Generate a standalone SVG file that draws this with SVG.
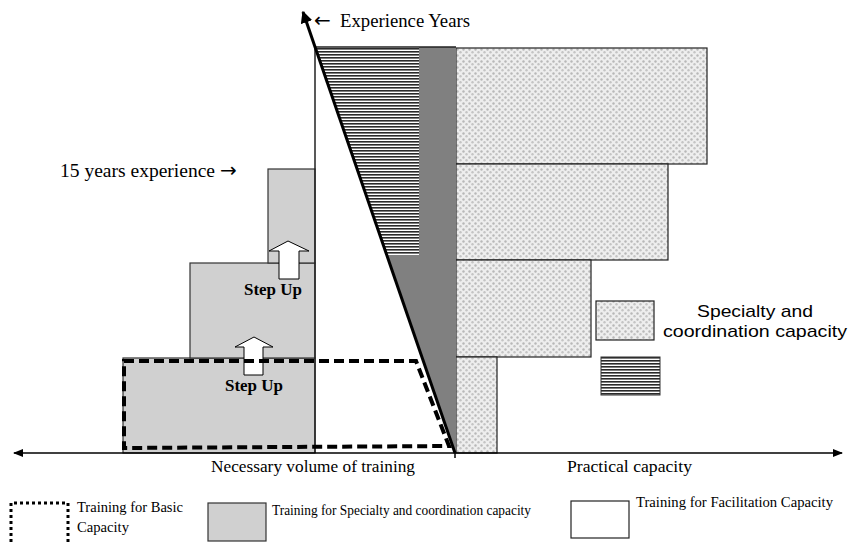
<svg xmlns="http://www.w3.org/2000/svg" width="850" height="542" viewBox="0 0 850 542">
<defs>
<pattern id="stip" width="6" height="6" patternUnits="userSpaceOnUse">
<rect width="6" height="6" fill="#eeeeee"/>
<circle cx="1.5" cy="1.5" r="1.2" fill="#b8b8b8"/>
<circle cx="4.5" cy="4.2" r="1.2" fill="#c4c4c4"/>
</pattern>
<pattern id="hatch" width="6" height="3" patternUnits="userSpaceOnUse">
<rect width="6" height="3" fill="#ffffff"/>
<rect y="0" width="6" height="1.6" fill="#2a2a2a"/>
</pattern>
<marker id="ah" viewBox="0 0 10 10" refX="9" refY="5" markerWidth="4" markerHeight="4" orient="auto-start-reverse">
<path d="M0,0 L10,5 L0,10 z" fill="#000"/>
</marker>
<marker id="ah2" viewBox="0 0 10 10" refX="9" refY="5" markerWidth="7" markerHeight="7" orient="auto-start-reverse">
<path d="M0,1 L10,5 L0,9 z" fill="#000"/>
</marker>
</defs>
<style>
.serif{font-family:"Liberation Serif","DejaVu Serif",serif;fill:#000}
.sans{font-family:"Liberation Sans",Arial,sans-serif;fill:#000}
.arr{font-family:"DejaVu Sans",sans-serif}
.grey{fill:#d0d0d0;stroke:#333;stroke-width:1.2}
.stip{fill:url(#stip);stroke:#222;stroke-width:1.2}
.arrowblk{fill:#fff;stroke:#000;stroke-width:1}
</style>
<rect width="850" height="542" fill="#fff"/>

<g id="capacity-blocks">
<rect class="stip" x="456" y="48" width="251" height="116"/>
<rect class="stip" x="456" y="164" width="212" height="96"/>
<rect class="stip" x="456" y="260" width="135" height="97"/>
<rect class="stip" x="456" y="357" width="41" height="96"/>
</g>

<g id="experience-triangle">
<polygon points="315,47 456,47 456,453 455,453" fill="#808080"/>
<polygon points="315,47 419,47 419,255 387,255" fill="url(#hatch)"/>
<line x1="315" y1="47" x2="456" y2="47" stroke="#222" stroke-width="1.5"/>
</g>

<g id="specialty-training">
<rect class="grey" x="123" y="358" width="192" height="95"/>
<rect class="grey" x="190" y="263" width="125" height="95"/>
<rect class="grey" x="268" y="169" width="47" height="94"/>
</g>

<g id="facilitation">
<line x1="315" y1="47" x2="315" y2="453" stroke="#222" stroke-width="1.5"/>
</g>

<g id="step-up-1">
<polygon class="arrowblk" points="254,337 273,347 263,347 263,375 244,375 244,347 235,347"/>
<text class="serif" x="225" y="391" font-size="17" font-weight="bold" textLength="58" lengthAdjust="spacingAndGlyphs">Step Up</text>
</g>
<g id="step-up-2">
<polygon class="arrowblk" points="288,241 309,251 299,251 299,279 279,279 279,251 269,251"/>
<text class="serif" x="244" y="295" font-size="17" font-weight="bold" textLength="58" lengthAdjust="spacingAndGlyphs">Step Up</text>
</g>

<g id="basic-capacity">
<polygon points="124,361 416,361 449,446 124,448" fill="none" stroke="#000" stroke-width="4" stroke-dasharray="10,5"/>
</g>

<g id="connectors">
<line x1="14" y1="453" x2="842" y2="453" stroke="#000" stroke-width="1.5" marker-start="url(#ah2)" marker-end="url(#ah2)"/>
<line x1="455" y1="453" x2="455" y2="458" stroke="#000" stroke-width="1.5"/>
<line x1="455" y1="453" x2="303" y2="12" stroke="#000" stroke-width="3" marker-end="url(#ah)"/>
</g>

<g id="labels">
<text class="serif" x="314" y="27" font-size="19"><tspan class="arr" font-size="20">←</tspan><tspan x="340" textLength="130" lengthAdjust="spacingAndGlyphs">Experience Years</tspan></text>
<text class="serif" x="60" y="177" font-size="19"><tspan textLength="155" lengthAdjust="spacingAndGlyphs">15 years experience</tspan><tspan class="arr" x="220" font-size="20">→</tspan></text>
<text class="serif" x="211" y="472" font-size="17" textLength="204" lengthAdjust="spacingAndGlyphs">Necessary volume of training</text>
<text class="serif" x="567" y="472" font-size="17" textLength="125" lengthAdjust="spacingAndGlyphs">Practical capacity</text>
</g>

<g id="legend-specialty-capacity">
<rect class="stip" x="596" y="301" width="58" height="39"/>
<rect x="601" y="357" width="59" height="38" fill="url(#hatch)" stroke="#333" stroke-width="1"/>
<text class="sans" x="697" y="317" font-size="17" textLength="116" lengthAdjust="spacingAndGlyphs">Specialty and</text>
<text class="sans" x="663" y="337" font-size="17" textLength="184" lengthAdjust="spacingAndGlyphs">coordination capacity</text>
</g>

<g id="legend-basic">
<path d="M11,542 L11,503 L68,503 L68,542" fill="none" stroke="#000" stroke-width="3" stroke-dasharray="3,3"/>
<text class="serif" x="77" y="512" font-size="14" textLength="106" lengthAdjust="spacingAndGlyphs">Training for Basic</text>
<text class="serif" x="77" y="532" font-size="14" textLength="52" lengthAdjust="spacingAndGlyphs">Capacity</text>
</g>
<g id="legend-specialty">
<rect class="grey" x="208" y="503" width="58" height="38"/>
<text class="serif" x="272" y="515" font-size="14" textLength="259" lengthAdjust="spacingAndGlyphs">Training for Specialty and coordination capacity</text>
</g>
<g id="legend-facilitation">
<rect x="571" y="501" width="58" height="37" fill="#fff" stroke="#222" stroke-width="1.2"/>
<text class="serif" x="636" y="507" font-size="14" textLength="197" lengthAdjust="spacingAndGlyphs">Training for Facilitation Capacity</text>
</g>
</svg>
